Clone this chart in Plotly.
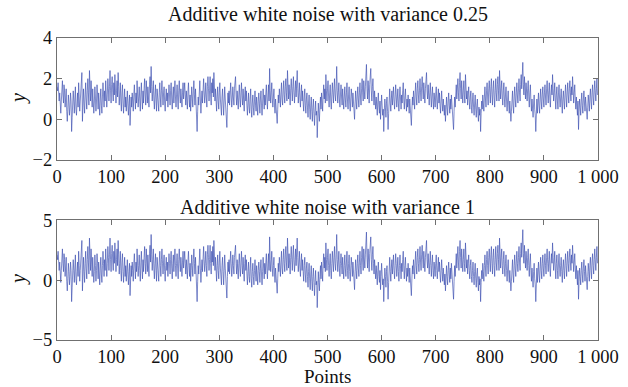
import plotly.graph_objects as go

# Top panel: noisy series, variance 0.25 (points 0..999)
y_var025 = [
1.6,1.4,1.8,1.2,0.9,1.3,0.8,0.3,0.9,1.5, 1.9,1.2,0.8,1.7,1.4,0.6,1.1,1.5,0.4,-0.1, 0.5,1.2,0.8,0.2,0.6,1.3,0.9,-0.6,0.1,0.7, 1.4,0.9,0.3,1.0,1.6,0.5,0.2,0.8,1.3,0.6, 1.8,1.1,0.4,0.9,1.5,1.9,2.3,-0.1,0.7,1.5,
0.8,0.3,1.2,1.8,1.0,0.5,1.4,2.0,1.3,0.7, 2.4,1.6,0.9,1.9,1.1,0.6,1.5,1.0,0.3,0.8, 1.6,1.1,0.4,0.9,1.7,1.2,0.5,1.3,0.8,0.2, 1.0,1.5,0.7,0.3,1.1,1.8,1.2,0.6,1.4,0.9, 1.9,1.3,0.6,1.2,2.0,1.5,0.9,1.6,2.4,1.4,
0.8,1.7,2.1,1.3,0.9,1.8,1.2,2.2,1.5,0.8, 1.4,1.9,1.1,2.3,1.6,0.7,1.2,1.8,0.9,0.4, 1.3,1.7,0.8,0.3,1.0,1.5,0.6,1.1,0.4,0.9, 1.4,0.7,0.2,0.8,1.2,-0.3,0.5,1.1,0.6,1.3, 0.9,0.4,1.2,1.7,1.0,0.5,1.3,0.8,1.9,1.2,
0.6,1.1,1.6,0.9,0.4,1.3,1.8,1.0,0.5,1.4, 0.8,1.5,2.0,1.2,0.7,1.9,1.4,0.8,1.6,1.1, 0.6,1.7,2.1,1.3,2.6,1.6,0.9,1.4,1.9,1.0, 0.5,1.2,1.7,0.9,0.4,1.5,1.0,0.6,0.4,1.3, 1.8,1.1,0.6,1.4,1.9,1.2,0.7,1.3,1.6,0.8,
0.4,1.1,1.5,0.9,1.3,0.6,1.0,1.7,1.2,0.7, 1.4,1.8,1.0,0.5,1.2,1.6,0.8,1.3,1.9,1.1, 0.6,1.2,1.7,1.0,0.5,1.4,1.9,1.2,0.8,1.5, 1.1,0.6,1.3,1.8,1.0,1.5,1.8,1.2,0.7,1.4, 1.0,0.5,1.3,1.8,1.1,0.6,1.2,0.4,0.9,1.6,
1.1,0.6,1.4,1.9,1.2,0.7,1.5,0.9,0.3,-0.6, 0.4,1.1,0.7,1.5,1.9,1.0,0.3,0.9,1.4,0.8, 1.3,2.0,1.4,0.8,1.2,1.8,1.1,0.6,1.6,2.1, 1.5,0.9,1.4,2.1,1.2,0.7,1.8,1.3,2.0,1.1, 2.3,1.6,0.9,1.5,1.0,0.4,1.1,1.6,0.9,0.5,
1.3,1.8,1.0,0.6,0.2,1.1,1.5,0.8,0.2,0.9, 1.6,1.0,0.5,0.1,-0.4,0.6,1.3,0.8,1.4,0.7, 1.1,1.8,1.2,0.6,1.0,1.6,1.1,0.7,1.5,1.9, 2.1,1.2,0.7,1.4,1.0,0.5,1.2,1.7,1.0,0.6, 1.3,1.8,1.1,0.7,1.5,1.0,0.4,1.2,1.6,0.9,
1.4,0.7,0.2,0.8,1.3,0.6,0.3,1.0,1.5,0.5, 0.1,0.8,1.2,0.6,0.2,0.9,1.4,0.7,0.4,1.1, 0.6,0.2,0.9,1.3,0.8,0.3,1.0,1.4,0.7,0.2, 0.8,1.5,1.0,0.5,1.2,0.7,1.3,1.7,0.9,0.5, 1.2,1.7,0.9,2.5,1.4,0.8,1.3,1.8,1.0,0.6,
1.1,1.5,0.7,0.3,1.0,0.6,0.1,-0.2,0.5,1.2, 0.8,1.5,1.1,0.6,1.3,1.8,1.0,0.7,1.4,1.9, 1.2,0.8,1.6,2.0,1.3,0.9,2.4,1.5,1.0,1.7, 1.2,0.7,1.5,2.0,1.4,0.9,1.6,2.1,1.3,0.8, 1.4,1.9,1.1,1.6,2.4,1.5,0.8,1.3,1.8,1.0,
0.6,1.3,1.7,0.9,1.4,0.8,0.4,1.1,1.5,0.7, 0.3,1.0,1.3,0.6,0.1,0.8,1.2,0.5,0.0,0.7, 1.1,0.4,-0.1,0.6,1.0,0.3,-0.3,0.4,0.9,0.2, 0.4,-0.9,0.2,0.8,0.3,-0.1,0.6,1.1,0.5,1.3, 0.9,0.4,1.2,1.7,1.0,1.5,0.8,2.2,1.4,0.9,
1.5,1.9,1.1,0.6,1.3,1.7,0.9,0.5,1.2,1.8, 1.3,0.8,1.5,2.0,1.2,0.9,1.6,2.6,1.4,0.8, 1.3,1.8,1.0,0.6,1.2,1.7,1.1,0.7,1.5,1.0, 0.5,1.1,1.6,1.0,0.6,1.3,1.8,0.9,0.5,1.2, 1.6,0.8,0.4,1.0,1.5,1.1,0.6,1.3,0.7,0.3,
0.0,0.8,1.4,0.9,0.5,1.2,1.6,1.0,0.6,1.3, 1.8,1.1,0.7,1.5,2.0,1.3,0.9,1.9,1.4,1.0, 1.6,2.1,2.7,1.5,1.0,1.9,1.3,0.8,1.7,2.0, 2.5,1.4,0.9,1.6,2.0,1.2,0.7,1.4,0.9,0.5, 1.1,0.7,0.2,0.9,1.3,0.6,0.3,0.9,0.0,0.6,
1.2,0.7,0.2,0.5,-0.6,0.4,1.0,0.6,0.1,0.8, 1.1,0.4,-0.5,0.3,0.9,1.5,0.8,0.4,1.0,1.4, 0.7,1.2,1.6,0.9,0.5,1.1,1.7,1.2,0.6,1.0, 1.5,0.8,0.4,1.1,1.6,1.0,0.5,1.2,0.8,1.4, 1.8,1.0,0.5,1.1,1.5,0.9,0.4,1.0,0.6,1.2,
0.8,0.3,1.0,0.6,0.1,-0.3,0.5,1.1,0.7,1.4, 1.0,0.5,1.3,1.8,1.1,0.7,1.5,1.9,1.2,0.8, 1.4,2.0,1.3,0.9,1.6,2.1,1.4,1.0,1.8,1.2, 0.8,1.5,1.9,2.3,1.4,1.0,1.7,1.2,0.7,1.3, 1.8,1.1,0.6,1.2,1.6,0.9,0.5,1.3,1.0,0.6,
1.2,1.6,0.9,0.5,1.1,1.5,0.8,1.3,0.7,0.3, 0.9,1.4,0.8,0.4,1.0,0.6,0.2,0.7,-0.1,0.5, 1.1,0.6,0.2,0.9,1.3,0.7,0.3,1.0,0.5,1.2, 0.7,0.3,0.0,-0.5,0.4,1.1,0.6,1.3,1.7,1.0, 1.5,2.0,1.3,0.9,1.8,2.3,1.5,1.0,1.9,1.3,
0.8,1.4,1.9,1.2,0.8,2.2,1.5,1.0,1.4,0.7, 1.2,1.6,0.9,0.5,1.1,1.4,0.6,0.3,0.9,1.3, 0.6,0.2,0.8,1.2,0.5,0.1,0.7,1.0,0.3,-0.1, 0.6,0.2,0.5,-0.6,0.3,0.9,0.5,1.2,0.8,0.4, 1.1,1.6,1.0,0.6,1.4,1.8,1.1,0.7,1.5,1.9,
1.3,0.8,1.6,2.0,1.2,0.7,1.5,1.9,1.1,0.6, 1.4,2.0,1.3,0.9,1.7,2.1,1.4,0.9,2.4,1.6, 1.0,1.5,1.9,1.1,0.7,1.4,1.8,1.0,0.6,1.2, 1.6,0.9,0.4,1.0,1.4,0.7,0.3,0.9,0.5,-0.1, 0.4,1.0,1.4,0.7,0.3,1.1,1.6,1.0,0.6,1.3,
1.8,1.2,0.8,1.5,2.0,1.3,0.9,1.7,2.2,1.5, 1.9,2.8,1.7,1.2,2.1,1.5,1.0,1.8,1.3,0.9, 1.5,1.9,1.1,0.6,1.3,1.7,0.9,0.4,1.0,0.5, 0.1,0.8,1.2,0.5,0.2,-0.6,0.4,1.0,0.3,0.8, 1.3,0.7,0.3,1.0,1.5,0.9,0.5,1.2,1.6,1.0,
0.6,1.3,1.7,1.1,0.7,1.5,1.9,1.2,0.8,1.4, 1.8,1.0,0.6,1.3,1.7,1.2,2.2,1.5,0.9,1.3, 1.8,1.0,0.5,1.2,1.6,0.9,0.5,1.3,1.7,1.0, 0.6,1.1,1.5,0.8,0.3,1.0,1.4,0.9,0.5,1.2, 1.7,1.1,0.6,1.3,1.8,1.2,0.8,1.5,1.9,1.3,
0.9,1.6,1.2,2.1,1.4,0.8,1.3,1.7,1.0,0.5, 1.1,0.6,0.2,0.9,-0.5,0.4,1.0,0.6,0.2,0.9, 1.3,0.7,0.3,1.0,1.4,0.8,0.4,1.1,0.7,0.3, 0.0,0.6,1.2,0.8,0.4,1.1,1.5,0.9,0.5,1.3, 1.7,1.1,0.7,1.4,1.9,1.3,0.9,1.5,2.0,1.2,
]

# Bottom panel: noisy series, variance 1 (points 0..999)
y_var1 = [
2.1,1.7,2.4,1.4,0.8,1.5,0.7,-0.2,0.8,1.9, 2.6,1.4,0.7,2.2,1.7,0.3,1.2,1.9,-0.1,-0.9, 0.1,1.4,0.7,-0.4,0.3,1.5,0.8,-1.8,-0.6,0.5, 1.7,0.8,-0.2,1.0,2.1,0.1,-0.4,0.7,1.5,0.3, 2.4,1.2,-0.1,0.8,1.9,2.6,3.3,-0.9,0.5,1.9,
0.7,-0.2,1.4,2.4,1.0,0.1,1.7,2.8,1.5,0.5, 3.5,2.1,0.8,2.6,1.2,0.3,1.9,1.0,-0.2,0.7, 2.1,1.2,-0.1,0.8,2.2,1.4,0.1,1.5,0.7,-0.4, 1.0,1.9,0.5,-0.2,1.2,2.4,1.4,0.3,1.7,0.8, 2.6,1.5,0.3,1.4,2.8,1.9,0.8,2.1,3.5,1.7,
0.7,2.2,2.9,1.5,0.8,2.4,1.4,3.1,1.9,0.7, 1.7,2.6,1.2,3.3,2.1,0.5,1.4,2.4,0.8,-0.1, 1.5,2.2,0.7,-0.2,1.0,1.9,0.3,1.2,-0.1,0.8, 1.7,0.5,-0.4,0.7,1.4,-1.3,0.1,1.2,0.3,1.5, 0.8,-0.1,1.4,2.2,1.0,0.1,1.5,0.7,2.6,1.4,
0.3,1.2,2.1,0.8,-0.1,1.5,2.4,1.0,0.1,1.7, 0.7,1.9,2.8,1.4,0.5,2.6,1.7,0.7,2.1,1.2, 0.3,2.2,2.9,1.5,3.8,2.1,0.8,1.7,2.6,1.0, 0.1,1.4,2.2,0.8,-0.1,1.9,1.0,0.3,-0.1,1.5, 2.4,1.2,0.3,1.7,2.6,1.4,0.5,1.5,2.1,0.7,
-0.1,1.2,1.9,0.8,1.5,0.3,1.0,2.2,1.4,0.5, 1.7,2.4,1.0,0.1,1.4,2.1,0.7,1.5,2.6,1.2, 0.3,1.4,2.2,1.0,0.1,1.7,2.6,1.4,0.7,1.9, 1.2,0.3,1.5,2.4,1.0,1.9,2.4,1.4,0.5,1.7, 1.0,0.1,1.5,2.4,1.2,0.3,1.4,-0.1,0.8,2.1,
1.2,0.3,1.7,2.6,1.4,0.5,1.9,0.8,-0.2,-1.8, -0.1,1.2,0.5,1.9,2.6,1.0,-0.2,0.8,1.7,0.7, 1.5,2.8,1.7,0.7,1.4,2.4,1.2,0.3,2.1,2.9, 1.9,0.8,1.7,2.9,1.4,0.5,2.4,1.5,2.8,1.2, 3.3,2.1,0.8,1.9,1.0,-0.1,1.2,2.1,0.8,0.1,
1.5,2.4,1.0,0.3,-0.4,1.2,1.9,0.7,-0.4,0.8, 2.1,1.0,0.1,-0.6,-1.5,0.3,1.5,0.7,1.7,0.5, 1.2,2.4,1.4,0.3,1.0,2.1,1.2,0.5,1.9,2.6, 2.9,1.4,0.5,1.7,1.0,0.1,1.4,2.2,1.0,0.3, 1.5,2.4,1.2,0.5,1.9,1.0,-0.1,1.4,2.1,0.8,
1.7,0.5,-0.4,0.7,1.5,0.3,-0.2,1.0,1.9,0.1, -0.6,0.7,1.4,0.3,-0.4,0.8,1.7,0.5,-0.1,1.2, 0.3,-0.4,0.8,1.5,0.7,-0.2,1.0,1.7,0.5,-0.4, 0.7,1.9,1.0,0.1,1.4,0.5,1.5,2.2,0.8,0.1, 1.4,2.2,0.8,3.6,1.7,0.7,1.5,2.4,1.0,0.3,
1.2,1.9,0.5,-0.2,1.0,0.3,-0.6,-1.1,0.1,1.4, 0.7,1.9,1.2,0.3,1.5,2.4,1.0,0.5,1.7,2.6, 1.4,0.7,2.1,2.8,1.5,0.8,3.5,1.9,1.0,2.2, 1.4,0.5,1.9,2.8,1.7,0.8,2.1,2.9,1.5,0.7, 1.7,2.6,1.2,2.1,3.5,1.9,0.7,1.5,2.4,1.0,
0.3,1.5,2.2,0.8,1.7,0.7,-0.1,1.2,1.9,0.5, -0.2,1.0,1.5,0.3,-0.6,0.7,1.4,0.1,-0.8,0.5, 1.2,-0.1,-0.9,0.3,1.0,-0.2,-1.3,-0.1,0.8,-0.4, -0.1,-2.3,-0.4,0.7,-0.2,-0.9,0.3,1.2,0.1,1.5, 0.8,-0.1,1.4,2.2,1.0,1.9,0.7,3.1,1.7,0.8,
1.9,2.6,1.2,0.3,1.5,2.2,0.8,0.1,1.4,2.4, 1.5,0.7,1.9,2.8,1.4,0.8,2.1,3.8,1.7,0.7, 1.5,2.4,1.0,0.3,1.4,2.2,1.2,0.5,1.9,1.0, 0.1,1.2,2.1,1.0,0.3,1.5,2.4,0.8,0.1,1.4, 2.1,0.7,-0.1,1.0,1.9,1.2,0.3,1.5,0.5,-0.2,
-0.8,0.7,1.7,0.8,0.1,1.4,2.1,1.0,0.3,1.5, 2.4,1.2,0.5,1.9,2.8,1.5,0.8,2.6,1.7,1.0, 2.1,2.9,4.0,1.9,1.0,2.6,1.5,0.7,2.2,2.8, 3.6,1.7,0.8,2.1,2.8,1.4,0.5,1.7,0.8,0.1, 1.2,0.5,-0.4,0.8,1.5,0.3,-0.2,0.8,-0.8,0.3,
1.4,0.5,-0.4,0.1,-1.8,-0.1,1.0,0.3,-0.6,0.7, 1.2,-0.1,-1.6,-0.2,0.8,1.9,0.7,-0.1,1.0,1.7, 0.5,1.4,2.1,0.8,0.1,1.2,2.2,1.4,0.3,1.0, 1.9,0.7,-0.1,1.2,2.1,1.0,0.1,1.4,0.7,1.7, 2.4,1.0,0.1,1.2,1.9,0.8,-0.1,1.0,0.3,1.4,
0.7,-0.2,1.0,0.3,-0.6,-1.3,0.1,1.2,0.5,1.7, 1.0,0.1,1.5,2.4,1.2,0.5,1.9,2.6,1.4,0.7, 1.7,2.8,1.5,0.8,2.1,2.9,1.7,1.0,2.4,1.4, 0.7,1.9,2.6,3.3,1.7,1.0,2.2,1.4,0.5,1.5, 2.4,1.2,0.3,1.4,2.1,0.8,0.1,1.5,1.0,0.3,
1.4,2.1,0.8,0.1,1.2,1.9,0.7,1.5,0.5,-0.2, 0.8,1.7,0.7,-0.1,1.0,0.3,-0.4,0.5,-0.9,0.1, 1.2,0.3,-0.4,0.8,1.5,0.5,-0.2,1.0,0.1,1.4, 0.5,-0.2,-0.8,-1.6,-0.1,1.2,0.3,1.5,2.2,1.0, 1.9,2.8,1.5,0.8,2.4,3.3,1.9,1.0,2.6,1.5,
0.7,1.7,2.6,1.4,0.7,3.1,1.9,1.0,1.7,0.5, 1.4,2.1,0.8,0.1,1.2,1.7,0.3,-0.2,0.8,1.5, 0.3,-0.4,0.7,1.4,0.1,-0.6,0.5,1.0,-0.2,-0.9, 0.3,-0.4,0.1,-1.8,-0.2,0.8,0.1,1.4,0.7,-0.1, 1.2,2.1,1.0,0.3,1.7,2.4,1.2,0.5,1.9,2.6,
1.5,0.7,2.1,2.8,1.4,0.5,1.9,2.6,1.2,0.3, 1.7,2.8,1.5,0.8,2.2,2.9,1.7,0.8,3.5,2.1, 1.0,1.9,2.6,1.2,0.5,1.7,2.4,1.0,0.3,1.4, 2.1,0.8,-0.1,1.0,1.7,0.5,-0.2,0.8,0.1,-0.9, -0.1,1.0,1.7,0.5,-0.2,1.2,2.1,1.0,0.3,1.5,
2.4,1.4,0.7,1.9,2.8,1.5,0.8,2.2,3.1,1.9, 2.6,4.2,2.2,1.4,2.9,1.9,1.0,2.4,1.5,0.8, 1.9,2.6,1.2,0.3,1.5,2.2,0.8,-0.1,1.0,0.1, -0.6,0.7,1.4,0.1,-0.4,-1.8,-0.1,1.0,-0.2,0.7, 1.5,0.5,-0.2,1.0,1.9,0.8,0.1,1.4,2.1,1.0,
0.3,1.5,2.2,1.2,0.5,1.9,2.6,1.4,0.7,1.7, 2.4,1.0,0.3,1.5,2.2,1.4,3.1,1.9,0.8,1.5, 2.4,1.0,0.1,1.4,2.1,0.8,0.1,1.5,2.2,1.0, 0.3,1.2,1.9,0.7,-0.2,1.0,1.7,0.8,0.1,1.4, 2.2,1.2,0.3,1.5,2.4,1.4,0.7,1.9,2.6,1.5,
0.8,2.1,1.4,2.9,1.7,0.7,1.5,2.2,1.0,0.1, 1.2,0.3,-0.4,0.8,-1.6,-0.1,1.0,0.3,-0.4,0.8, 1.5,0.5,-0.2,1.0,1.7,0.7,-0.1,1.2,0.5,-0.2, -0.8,0.3,1.4,0.7,-0.1,1.2,1.9,0.8,0.1,1.5, 2.2,1.2,0.5,1.7,2.6,1.5,0.8,1.9,2.8,1.4,
]

points = list(range(len(y_var025)))

titles = ["Additive white noise with variance 0.25", "Additive white noise with variance 1"]
x_label = "Points"
y_label = "<i>y</i>"
x_tickvals = [0, 100, 200, 300, 400, 500, 600, 700, 800, 900, 1000]
x_ticktext = ["0", "100", "200", "300", "400", "500", "600", "700", "800", "900", "1 000"]
y1_ticks = [-2, 0, 2, 4]
y2_ticks = [-5, 0, 5]

FONT = "Liberation Serif, Times New Roman, serif"
TXT = "#111111"
LINE_COLOR = "#3a4eb0"
AXIS_COLOR = "#707070"

# plot area spans y = 38 .. 340 px (height 302)
TOP_DOMAIN = [0.596, 1.0]
BOT_DOMAIN = [0.0, 0.397]

fig = go.Figure()
fig.add_trace(go.Scatter(x=points, y=y_var025, mode="lines", xaxis="x", yaxis="y",
                         line=dict(color=LINE_COLOR, width=0.65), showlegend=False))
fig.add_trace(go.Scatter(x=points, y=y_var1, mode="lines", xaxis="x2", yaxis="y2",
                         line=dict(color=LINE_COLOR, width=0.65), showlegend=False))

ax_common = dict(ticks="inside", ticklen=5, tickcolor=AXIS_COLOR, showline=True,
                 linecolor=AXIS_COLOR, linewidth=1, mirror="ticks", showgrid=False,
                 zeroline=False, automargin=False,
                 tickfont=dict(family=FONT, size=18.5, color=TXT))
x_common = dict(ax_common, range=[0, 1000], tickvals=x_tickvals, ticktext=x_ticktext)

fig.update_layout(
    width=628, height=387, margin=dict(l=57, r=30, t=38, b=47),
    paper_bgcolor="white", plot_bgcolor="white",
    font=dict(family=FONT, size=18.5, color=TXT),
    xaxis=dict(x_common, anchor="y", domain=[0, 1]),
    yaxis=dict(ax_common, anchor="x", domain=TOP_DOMAIN, range=[-2, 4], tickvals=y1_ticks),
    xaxis2=dict(x_common, anchor="y2", domain=[0, 1]),
    yaxis2=dict(ax_common, anchor="x2", domain=BOT_DOMAIN, range=[-5, 5], tickvals=y2_ticks),
)

# panel titles
fig.add_annotation(text=titles[0], x=0.5, xref="paper", y=TOP_DOMAIN[1], yref="paper",
                   yanchor="middle", yshift=24, height=22, showarrow=False,
                   font=dict(family=FONT, size=20, color=TXT))
fig.add_annotation(text=titles[1], x=0.5, xref="paper", y=BOT_DOMAIN[1], yref="paper",
                   yanchor="middle", yshift=13, height=22, showarrow=False,
                   font=dict(family=FONT, size=20, color=TXT))
# axis labels
fig.add_annotation(text=x_label, x=0.5, xref="paper", y=0, yref="paper",
                   yanchor="middle", yshift=-36, height=20, showarrow=False,
                   font=dict(family=FONT, size=19, color=TXT))
for dom in (TOP_DOMAIN, BOT_DOMAIN):
    fig.add_annotation(text=y_label, x=0, xref="paper", y=(dom[0] + dom[1]) / 2, yref="paper",
                       xanchor="center", yanchor="middle", xshift=-39, textangle=-90,
                       showarrow=False, font=dict(family=FONT, size=20, color=TXT))

# remove the browser's default 8px body margin so the figure sits at the window's corner
fig.write_html("out.html", config={"displayModeBar": False},
               post_script="document.body.style.margin='0';")
